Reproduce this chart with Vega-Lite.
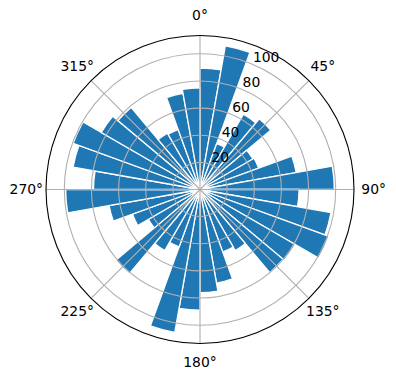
{
  "$schema": "https://vega.github.io/schema/vega-lite/v6.json",
  "width": 392,
  "height": 379,
  "autosize": {"type": "none"},
  "padding": {"left": 4, "top": 0, "right": 0, "bottom": 1},
  "background": "white",
  "config": {"view": {"stroke": null}, "font": "DejaVu Sans"},
  "datasets": {
    "bars": [
      {"start": 0, "end": 10, "value": 89.5},
      {"start": 10, "end": 20, "value": 107.5},
      {"start": 20, "end": 30, "value": 36},
      {"start": 30, "end": 40, "value": 64},
      {"start": 40, "end": 50, "value": 68},
      {"start": 50, "end": 60, "value": 45},
      {"start": 60, "end": 70, "value": 46},
      {"start": 70, "end": 80, "value": 72},
      {"start": 80, "end": 90, "value": 99},
      {"start": 90, "end": 100, "value": 73},
      {"start": 100, "end": 110, "value": 98},
      {"start": 110, "end": 120, "value": 101},
      {"start": 120, "end": 130, "value": 81},
      {"start": 130, "end": 140, "value": 80},
      {"start": 140, "end": 150, "value": 52},
      {"start": 150, "end": 160, "value": 49},
      {"start": 160, "end": 170, "value": 70},
      {"start": 170, "end": 180, "value": 76},
      {"start": 180, "end": 190, "value": 89},
      {"start": 190, "end": 200, "value": 107},
      {"start": 200, "end": 210, "value": 45},
      {"start": 210, "end": 220, "value": 52},
      {"start": 220, "end": 230, "value": 81},
      {"start": 230, "end": 240, "value": 44},
      {"start": 240, "end": 250, "value": 53},
      {"start": 250, "end": 260, "value": 68},
      {"start": 260, "end": 270, "value": 99},
      {"start": 270, "end": 280, "value": 78.5},
      {"start": 280, "end": 290, "value": 95},
      {"start": 290, "end": 300, "value": 99.5},
      {"start": 300, "end": 310, "value": 84},
      {"start": 310, "end": 320, "value": 79},
      {"start": 320, "end": 330, "value": 48},
      {"start": 330, "end": 340, "value": 47},
      {"start": 340, "end": 350, "value": 72},
      {"start": 350, "end": 360, "value": 75}
    ],
    "rings": [{"r": 20, "label": "20"}, {"r": 40, "label": "40"}, {"r": 60, "label": "60"}, {"r": 80, "label": "80"}, {"r": 100, "label": "100"}],
    "spokes": [
      {"a": 0, "label": "0°"}, {"a": 45, "label": "45°"}, {"a": 90, "label": "90°"}, {"a": 135, "label": "135°"},
      {"a": 180, "label": "180°"}, {"a": 225, "label": "225°"}, {"a": 270, "label": "270°"}, {"a": 315, "label": "315°"}
    ]
  },
  "layer": [
    {
      "data": {"name": "bars"},
      "mark": {"type": "arc", "fill": "#1f77b4", "stroke": "white", "strokeWidth": 1.3},
      "encoding": {
        "theta": {"field": "start", "type": "quantitative", "stack": null, "scale": {"domain": [0, 360], "range": [0, 6.283185307179586]}},
        "theta2": {"field": "end"},
        "radius": {"field": "value", "type": "quantitative", "scale": {"type": "linear", "domain": [0, 113.5], "range": [0, 154]}}
      }
    },
    {
      "data": {"name": "rings"},
      "mark": {"type": "arc", "filled": false, "stroke": "#b0b0b0", "strokeWidth": 1.1},
      "encoding": {
        "theta": {"datum": 0, "type": "quantitative", "stack": null},
        "theta2": {"datum": 360},
        "radius": {"field": "r", "type": "quantitative"},
        "radius2": {"field": "r"}
      }
    },
    {
      "data": {"name": "spokes"},
      "mark": {"type": "arc", "filled": false, "stroke": "#b0b0b0", "strokeWidth": 1.1},
      "encoding": {
        "theta": {"field": "a", "type": "quantitative", "stack": null},
        "theta2": {"field": "a"},
        "radius": {"datum": 113.5, "type": "quantitative"},
        "radius2": {"datum": 0}
      }
    },
    {
      "data": {"values": [{"outer": 113.5}]},
      "mark": {"type": "arc", "filled": false, "stroke": "black", "strokeWidth": 1.1},
      "encoding": {
        "theta": {"datum": 0, "type": "quantitative", "stack": null},
        "theta2": {"datum": 360},
        "radius": {"field": "outer", "type": "quantitative"},
        "radius2": {"field": "outer"}
      }
    },
    {
      "data": {"name": "spokes"},
      "mark": {"type": "text", "fontSize": 13.9, "align": "center", "baseline": "middle", "color": "black"},
      "encoding": {
        "theta": {"field": "a", "type": "quantitative", "stack": null},
        "radius": {"datum": 128, "type": "quantitative"},
        "text": {"field": "label"}
      }
    },
    {
      "data": {"name": "rings"},
      "mark": {"type": "text", "fontSize": 13.9, "align": "left", "baseline": "alphabetic", "dx": 1, "dy": -2, "color": "black"},
      "encoding": {
        "theta": {"datum": 22.5, "type": "quantitative", "stack": null},
        "radius": {"field": "r", "type": "quantitative"},
        "text": {"field": "label"}
      }
    }
  ]
}
